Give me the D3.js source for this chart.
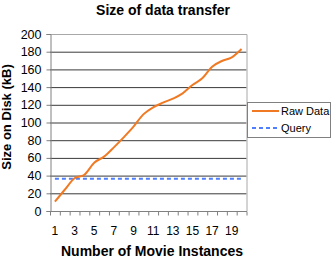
<!DOCTYPE html>
<html><head><meta charset="utf-8">
<script src="https://cdn.jsdelivr.net/npm/d3@7"></script>
<style>body{margin:0;background:#fff}svg{display:block}text{font-family:"Liberation Sans",Arial,sans-serif}</style>
</head><body>
<svg id="c" width="333" height="261"></svg>
<script>
const categories = d3.range(1, 21);
const rawData = [10.5, 24, 37, 41, 54.6, 61.4, 71.9, 83.2, 95.3, 109.2, 117.1, 122.4, 126.9, 132.9, 142.4, 149.9, 163.1, 169.5, 173.6, 183];
const queryData = categories.map(() => 36.5);
const yTicks = [0, 20, 40, 60, 80, 100, 120, 140, 160, 180, 200];
const xTickLabels = [1, 3, 5, 7, 9, 11, 13, 15, 17, 19];

const svg = d3.select("#c");
const L = 50, R = 246.5, T = 34, B = 211;
const x = d3.scaleBand().domain(categories).range([L, R]);
const y = d3.scaleLinear().domain([0, 200]).range([B, T]);

// gridlines
svg.append("g").selectAll("line").data(yTicks.filter(d => d > 0 && d < 200)).join("line")
  .attr("x1", L).attr("x2", R).attr("y1", d => y(d) + 0.5).attr("y2", d => y(d) + 0.5)
  .attr("stroke", "#3a3a3a").attr("stroke-width", 1);
// border top/right
svg.append("path").attr("d", `M${L},${T+0.5}H${R+0.5}V${B}`).attr("fill", "none").attr("stroke", "#a8a8a8");

// y axis
const ya = svg.append("g").attr("transform", `translate(${L+0.5},0)`)
  .call(d3.axisLeft(y).tickValues(yTicks).tickSize(4).tickPadding(5));
ya.select(".domain").attr("stroke", "#808080");
ya.selectAll(".tick line").attr("stroke", "#808080");
ya.selectAll("text").attr("font-size", 12.5).attr("fill", "#000");

// x axis
const xa = svg.append("g").attr("transform", `translate(0,${B+0.5})`);
xa.append("line").attr("x1", L).attr("x2", R + 0.5).attr("stroke", "#808080");
xa.selectAll("line.t").data(categories.concat([21])).join("line").attr("class", "t")
  .attr("x1", (d, i) => (i < 20 ? x(d) : R) + 0.5).attr("x2", (d, i) => (i < 20 ? x(d) : R) + 0.5)
  .attr("y1", 0).attr("y2", 4).attr("stroke", "#808080");
xa.selectAll("text").data(xTickLabels).join("text")
  .attr("x", d => x(d) + x.bandwidth() / 2).attr("y", 23)
  .attr("text-anchor", "middle").attr("font-size", 12).text(d => d);

// lines
const line = d3.line().x((d, i) => x(categories[i]) + x.bandwidth() / 2).y(d => y(d));
svg.append("path").datum(queryData).attr("d", line).attr("fill", "none")
  .attr("stroke", "#4f7fff").attr("stroke-width", 2).attr("stroke-dasharray", "4,3");
svg.append("path").datum(rawData).attr("d", line.curve(d3.curveMonotoneX)).attr("fill", "none")
  .attr("stroke", "#f07a24").attr("stroke-width", 2);

// titles
svg.append("text").attr("x", 163).attr("y", 15).attr("text-anchor", "middle")
  .attr("font-size", 14).attr("font-weight", "bold").text("Size of data transfer");
svg.append("text").attr("transform", "translate(11,117) rotate(-90)").attr("text-anchor", "middle")
  .attr("font-size", 13).attr("font-weight", "bold").text("Size on Disk (kB)");
svg.append("text").attr("x", 152).attr("y", 256).attr("text-anchor", "middle")
  .attr("font-size", 14).attr("font-weight", "bold").text("Number of Movie Instances");

// legend
const lg = svg.append("g");
lg.append("rect").attr("x", 247.5).attr("y", 102.5).attr("width", 83).attr("height", 35)
  .attr("fill", "#fff").attr("stroke", "#808080");
const items = [{name: "Raw Data", color: "#f07a24", dash: null}, {name: "Query", color: "#4f7fff", dash: "4,3"}];
items.forEach((it, i) => {
  const yy = 111 + i * 17;
  lg.append("line").attr("x1", 252).attr("x2", 279).attr("y1", yy).attr("y2", yy)
    .attr("stroke", it.color).attr("stroke-width", 2).attr("stroke-dasharray", it.dash);
  lg.append("text").attr("x", 281).attr("y", yy + 4).attr("font-size", 11).text(it.name);
});
</script>
</body></html>
